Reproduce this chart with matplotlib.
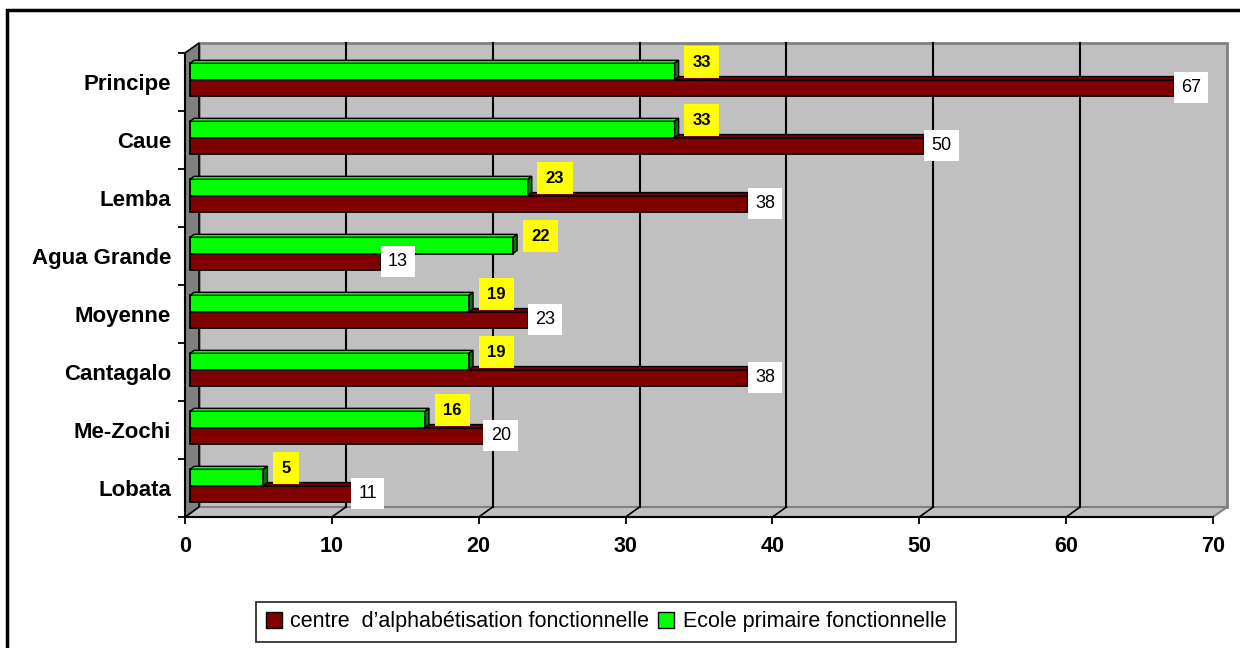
import matplotlib
matplotlib.use('Agg')
import matplotlib.pyplot as plt
import matplotlib.patches as mptch
import matplotlib.transforms as mtrans
import numpy as np

plt.rcParams['font.family'] = ['Liberation Sans', 'DejaVu Sans']

#data, bottom to top as drawn
districts = ['Lobata', 'Me-Zochi', 'Cantagalo', 'Moyenne', 'Agua Grande', 'Lemba', 'Caue', 'Principe']
centre = [11, 20, 38, 23, 13, 38, 50, 67]
ecole = [5, 16, 19, 19, 22, 23, 33, 33]
xticks = [0, 10, 20, 30, 40, 50, 60, 70]
legend_labels = ['centre  d\u2019alphab\u00e9tisation fonctionnelle', 'Ecole primaire fonctionnelle']

RED = '#800000'
GREEN = '#00ff00'

DPI = 100
W, H = 1240, 648
fig = plt.figure(figsize=(W / DPI, H / DPI), dpi=DPI)
#front plane of the fake 3D box
ax = fig.add_axes([185 / W, (H - 517) / H, (1213 - 185) / W, (517 - 53) / H])
ax.set_xlim(0, 70)
ax.set_ylim(-0.5, len(districts) - 0.5)
ax.patch.set_visible(False)

#pixel shift helper for the depth effect
def shift(dx, dy):
    return mtrans.ScaledTranslation(dx / DPI, dy / DPI, fig.dpi_scale_trans)

ident = mtrans.IdentityTransform()
back = np.array([14, 10])

#back wall
ax.add_patch(mptch.Rectangle((0, 0), 1, 1, transform=ax.transAxes + shift(*back),
                             fc='#c0c0c0', ec='#808080', lw=2, zorder=0, clip_on=False))

#left wall and floor
p = ax.transAxes.transform([(0, 0), (0, 1), (1, 0)])
left_wall = [p[0], p[1], p[1] + back, p[0] + back]
floor = [p[0], p[2], p[2] + back, p[0] + back]
ax.add_artist(mptch.Polygon(floor, closed=True, transform=ident, fc='#c0c0c0',
                            ec='#808080', lw=1.5, zorder=0.5, clip_on=False))
ax.add_artist(mptch.Polygon(left_wall, closed=True, transform=ident, fc='#808080',
                            ec='black', lw=1.2, zorder=0.6, clip_on=False))

#grid lines on the back wall + diagonals on the floor
for x in xticks[1:-1]:
    ax.plot([x, x], [0, 1], transform=ax.get_xaxis_transform() + shift(*back),
            color='black', lw=1.5, zorder=1, clip_on=False)
    f = ax.get_xaxis_transform().transform((x, 0))
    ax.plot([f[0], f[0] + back[0]], [f[1], f[1] + back[1]], transform=ident,
            color='black', lw=1.2, zorder=1, clip_on=False)

#bars
h = 0.28
y = np.arange(len(districts))
yr = y - 0.16
yg = y + 0.12
bar_tr = ax.transData + shift(5, 3.6)
depth = np.array([4, 3])

def faces(vals, ypos, top_col, side_col, z):
    for v, yy in zip(vals, ypos):
        a = bar_tr.transform([(0, yy + h / 2), (v, yy + h / 2), (v, yy - h / 2)])
        top = [a[0], a[1], a[1] + depth, a[0] + depth]
        side = [a[2], a[1], a[1] + depth, a[2] + depth]
        ax.add_artist(mptch.Polygon(top, closed=True, transform=ident, fc=top_col,
                                    ec='black', lw=1, zorder=z, clip_on=False))
        ax.add_artist(mptch.Polygon(side, closed=True, transform=ident, fc=side_col,
                                    ec='black', lw=1, zorder=z, clip_on=False))

ax.barh(yr, centre, height=h, color=RED, edgecolor='black', lw=1.3,
        transform=bar_tr, zorder=3, clip_on=False)
faces(centre, yr, RED, '#5a0000', 3.5)
ax.barh(yg, ecole, height=h, color=GREEN, edgecolor='black', lw=1.3,
        transform=bar_tr, zorder=4, clip_on=False)
faces(ecole, yg, GREEN, '#008000', 4.5)

#value labels
for v, yy in zip(ecole, yg):
    ax.annotate(str(v), xy=(v, yy + h / 2), xycoords=bar_tr, xytext=(18, 1),
                textcoords='offset pixels', ha='left', va='center', fontsize=12,
                fontweight='bold', zorder=6,
                bbox=dict(boxstyle='square,pad=0.5', fc='yellow', ec='none'))
for v, yy in zip(centre, yr):
    ax.annotate(str(v), xy=(v, yy), xycoords=bar_tr, xytext=(7, 0),
                textcoords='offset pixels', ha='left', va='center', fontsize=13,
                zorder=6, bbox=dict(boxstyle='square,pad=0.4', fc='white', ec='none'))

#axes
for s in ['top', 'right']:
    ax.spines[s].set_visible(False)
for s in ['left', 'bottom']:
    ax.spines[s].set_linewidth(1.5)
    ax.spines[s].set_zorder(2)
ax.set_xticks(xticks)
ax.set_xticklabels([str(t) for t in xticks], fontsize=15.5, fontweight='bold')
ax.tick_params(axis='x', length=5, width=1.3, pad=9)
ax.set_yticks(y)
ax.set_yticklabels(districts, fontsize=16, fontweight='bold')
ax.set_yticks(np.arange(-0.5, len(districts), 1), minor=True)
ax.tick_params(axis='y', which='major', length=0, pad=10)
ax.tick_params(axis='y', which='minor', length=5, width=1.3)

#legend
handles = [mptch.Patch(fc=RED, ec='black'), mptch.Patch(fc=GREEN, ec='black')]
leg = fig.legend(handles, legend_labels, loc='center', bbox_to_anchor=(606 / W, (H - 622) / H),
                 ncol=2, frameon=True, fancybox=False, edgecolor='black', fontsize=15.5,
                 handlelength=0.75, handleheight=0.75, handletextpad=0.4,
                 columnspacing=0.4, borderpad=0.45)
leg.get_frame().set_linewidth(1.3)

#outer frame of the chart
fig.add_artist(mptch.Rectangle((7 / W, -0.1), 1.2, (H - 10) / H + 0.1, transform=fig.transFigure,
                               fill=False, ec='black', lw=2.5))

fig.savefig('out.png', dpi=DPI)
